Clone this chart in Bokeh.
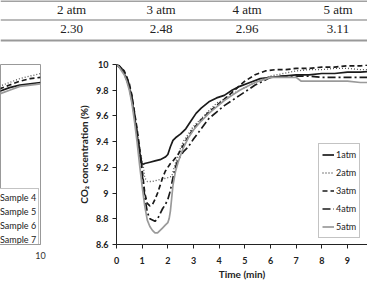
from bokeh.plotting import figure
from bokeh.models import Range1d, FixedTicker, CustomJSTickFormatter, Legend, LegendItem
from bokeh.layouts import column, row
from bokeh.core.properties import value
from bokeh.embed import file_html
from bokeh.resources import INLINE

# ---------------- data ----------------
table_headers = ["2 atm", "3 atm", "4 atm", "5 atm"]
table_values = ["2.30", "2.48", "2.96", "3.11"]

t_1atm = [0, 0.1, 0.2, 0.3, 0.4, 0.5, 0.6, 0.7, 0.8, 0.9, 1.0, 1.1, 1.3, 1.5, 1.7, 1.9, 2.0, 2.1, 2.2, 2.3,
          2.5, 2.7, 2.9, 3.1, 3.3, 3.6, 3.9, 4.2, 4.5, 4.8, 5.2, 5.6, 6.0, 6.5, 7.0, 7.5, 8.0, 8.5, 9.0, 9.5, 10.0]
v_1atm = [10.0, 9.98, 9.96, 9.93, 9.88, 9.82, 9.72, 9.6, 9.45, 9.32, 9.22, 9.23, 9.24, 9.25, 9.26, 9.28, 9.30,
          9.36, 9.41, 9.43, 9.46, 9.50, 9.56, 9.62, 9.66, 9.71, 9.74, 9.76, 9.80, 9.83, 9.86, 9.89, 9.90, 9.91,
          9.92, 9.92, 9.93, 9.93, 9.94, 9.94, 9.95]

t_2atm = [0, 0.1, 0.2, 0.3, 0.4, 0.5, 0.6, 0.7, 0.8, 0.9, 1.0, 1.05, 1.1, 1.2, 1.4, 1.6, 1.8, 2.0, 2.15, 2.25,
          2.4, 2.6, 2.8, 3.0, 3.3, 3.6, 3.9, 4.2, 4.5, 4.8, 5.2, 5.6, 6.0, 6.5, 7.0, 7.5, 8.0, 8.5, 9.0, 9.5, 10.0]
v_2atm = [10.0, 9.99, 9.97, 9.94, 9.9, 9.84, 9.75, 9.62, 9.48, 9.35, 9.24, 9.2, 9.12, 9.09, 9.09, 9.1, 9.11,
          9.12, 9.13, 9.2, 9.3, 9.4, 9.46, 9.52, 9.58, 9.64, 9.7, 9.73, 9.77, 9.8, 9.84, 9.88, 9.91, 9.93, 9.95,
          9.96, 9.96, 9.97, 9.97, 9.96, 9.96]

t_3atm = [0, 0.1, 0.2, 0.3, 0.4, 0.5, 0.6, 0.7, 0.8, 0.9, 1.0, 1.1, 1.2, 1.3, 1.4, 1.5, 1.6, 1.7, 1.8, 1.9,
          2.0, 2.1, 2.2, 2.4, 2.6, 2.8, 3.0, 3.3, 3.6, 3.9, 4.2, 4.6, 5.0, 5.4, 5.8, 6.2, 6.6, 7.0, 7.5, 8.0,
          8.5, 9.0, 9.5, 10.0]
v_3atm = [10.0, 9.99, 9.97, 9.95, 9.9, 9.85, 9.76, 9.63, 9.5, 9.35, 9.18, 9.0, 8.92, 8.9, 8.91, 8.95, 9.0,
          9.06, 9.12, 9.17, 9.2, 9.23, 9.25, 9.3, 9.37, 9.44, 9.5, 9.57, 9.63, 9.68, 9.73, 9.8, 9.87, 9.92, 9.95,
          9.96, 9.96, 9.97, 9.97, 9.98, 9.98, 9.99, 9.99, 10.0]

t_4atm = [0, 0.1, 0.2, 0.3, 0.4, 0.5, 0.6, 0.7, 0.8, 0.9, 1.0, 1.1, 1.2, 1.3, 1.4, 1.5, 1.6, 1.7, 1.8, 1.9,
          2.0, 2.1, 2.2, 2.3, 2.4, 2.6, 2.8, 3.0, 3.3, 3.6, 3.9, 4.2, 4.5, 4.8, 5.1, 5.4, 5.7, 6.0, 6.5, 7.0,
          7.5, 8.0, 8.5, 9.0, 9.5, 10.0]
v_4atm = [10.0, 9.99, 9.97, 9.94, 9.9, 9.84, 9.75, 9.62, 9.48, 9.33, 9.15, 8.97, 8.85, 8.8, 8.79, 8.78, 8.8,
          8.84, 8.88, 8.91, 8.95, 9.02, 9.12, 9.2, 9.26, 9.32, 9.36, 9.42, 9.5, 9.58, 9.63, 9.68, 9.72, 9.76,
          9.8, 9.84, 9.87, 9.9, 9.91, 9.91, 9.91, 9.9, 9.9, 9.9, 9.9, 9.9]

t_5atm = [0, 0.1, 0.2, 0.3, 0.4, 0.5, 0.6, 0.7, 0.8, 0.9, 1.0, 1.1, 1.2, 1.3, 1.4, 1.5, 1.6, 1.7, 1.8, 1.9,
          2.0, 2.05, 2.1, 2.15, 2.2, 2.3, 2.4, 2.6, 2.8, 3.0, 3.3, 3.6, 3.9, 4.2, 4.5, 4.8, 5.1, 5.4, 5.7, 6.0,
          6.5, 7.0, 7.2, 7.5, 8.0, 8.5, 9.0, 9.5, 10.0]
v_5atm = [10.0, 9.98, 9.95, 9.92, 9.87, 9.8, 9.7, 9.56, 9.4, 9.22, 9.05, 8.9, 8.79, 8.74, 8.71, 8.69, 8.69,
          8.71, 8.73, 8.75, 8.77, 8.8, 8.86, 8.96, 9.06, 9.17, 9.24, 9.35, 9.43, 9.49, 9.56, 9.62, 9.67, 9.72,
          9.76, 9.8, 9.83, 9.86, 9.88, 9.9, 9.9, 9.9, 9.87, 9.87, 9.87, 9.87, 9.87, 9.86, 9.86]

series_labels = ["1atm", "2atm", "3atm", "4atm", "5atm"]

t_left = [8.4, 8.8, 9.2, 9.6, 10.0]
v_sample4 = [9.83, 9.86, 9.89, 9.91, 9.93]
v_sample5 = [9.81, 9.84, 9.87, 9.89, 9.90]
v_sample6 = [9.79, 9.82, 9.84, 9.85, 9.86]
v_sample7 = [9.77, 9.80, 9.83, 9.84, 9.85]
left_labels = ["Sample 4", "Sample 5", "Sample 6", "Sample 7"]

y_ticks = [8.6, 8.8, 9.0, 9.2, 9.4, 9.6, 9.8, 10.0]
x_ticks = [0, 1, 2, 3, 4, 5, 6, 7, 8, 9, 10]

# ---------------- styles / layout ----------------
SANS = "Lato"
SERIF = "Liberation Serif"
styles = [
    dict(line_color="#1a1a1a", line_width=1.7, line_dash="solid"),
    dict(line_color="#555555", line_width=1.3, line_dash="1 2"),
    dict(line_color="#1a1a1a", line_width=1.7, line_dash="5 3"),
    dict(line_color="#1a1a1a", line_width=1.7, line_dash="8 3 2 3"),
    dict(line_color="#9a9a9a", line_width=1.7, line_dash="solid"),
]
left_styles = [styles[1], styles[2], styles[0], styles[4]]
col_centers = [71, 160.5, 246.5, 337.5]

fmt = CustomJSTickFormatter(code="return (Math.round(tick*10)/10).toString();")

# ---------------- table strip ----------------
tab = figure(width=367, height=45, x_range=Range1d(0, 367), y_range=Range1d(45, 0),
             output_backend="svg", toolbar_location=None, min_border=0)
tab.axis.visible = False
tab.grid.visible = False
tab.outline_line_color = None
tab.segment(x0=[0], y0=[0.5], x1=[367], y1=[0.5], line_color="#444444", line_width=1)
tab.segment(x0=[0], y0=[19.5], x1=[367], y1=[19.5], line_color="#777777", line_width=1.2)
tab.segment(x0=[0], y0=[40], x1=[367], y1=[40], line_color="#999999", line_width=2)
tab.text(x=col_centers, y=[9] * 4, text=table_headers, text_font=value(SERIF), text_font_size="13px",
         text_align="center", text_baseline="middle", text_color="#222222")
tab.text(x=col_centers, y=[28] * 4, text=table_values, text_font=value(SERIF), text_font_size="13px",
         text_align="center", text_baseline="middle", text_color="#222222")

# ---------------- left partial chart ----------------
lf = figure(width=60, height=239, x_range=Range1d(8.45, 10), y_range=Range1d(8.6, 10),
            output_backend="svg", toolbar_location=None,
            min_border_left=0, min_border_right=20, min_border_top=17, min_border_bottom=40)
lf.yaxis.visible = False
lf.grid.visible = False
lf.outline_line_color = "#999999"
lf.xaxis.ticker = FixedTicker(ticks=[0, 2, 4, 6, 8, 10])
lf.xaxis.axis_line_color = "#999999"
lf.xaxis.major_tick_line_color = None
lf.xaxis.minor_tick_line_color = None
lf.xaxis.major_label_standoff = 1
lf.xaxis.major_label_text_font = SANS
lf.xaxis.major_label_text_font_size = "9px"
lf.xaxis.major_label_text_color = "#333333"
litems = []
for lab, vals, st in zip(left_labels, [v_sample4, v_sample5, v_sample6, v_sample7], left_styles):
    r = lf.line(t_left, vals, **st)
    litems.append(LegendItem(label=lab, renderers=[r]))
lleg = Legend(items=litems, location=(-20, -4), label_text_font=SANS, label_text_font_size="9px",
              label_text_color="#222222", glyph_width=14, glyph_height=12, label_height=12,
              label_standoff=3, spacing=2, padding=2, margin=0, label_width=36,
              border_line_color="#888888", background_fill_alpha=1)
lf.add_layout(lleg, "center")

# ---------------- main chart ----------------
p = figure(width=307, height=239, x_range=Range1d(0, 9.78), y_range=Range1d(8.6, 10),
           output_backend="svg", toolbar_location=None,
           min_border_left=56, min_border_right=0, min_border_top=19, min_border_bottom=35)
p.outline_line_color = None
p.xgrid.visible = False
p.ygrid.ticker = FixedTicker(ticks=[10.0])
p.ygrid.grid_line_color = "#aaaaaa"

p.xaxis.ticker = FixedTicker(ticks=x_ticks)
p.yaxis.ticker = FixedTicker(ticks=y_ticks)
p.yaxis.formatter = fmt
for ax in (p.xaxis, p.yaxis):
    ax.axis_line_color = "#222222"
    ax.major_tick_line_color = "#222222"
    ax.major_tick_out = 4
    ax.major_tick_in = 0
    ax.minor_tick_line_color = None
    ax.major_label_text_font = SANS
    ax.major_label_text_font_size = "9px"
    ax.major_label_text_color = "#222222"
    ax.major_label_text_font_style = "bold"
    ax.axis_label_text_font = SANS
    ax.axis_label_text_font_size = "10px"
    ax.axis_label_text_font_style = "bold"
    ax.axis_label_text_color = "#222222"
p.xaxis.axis_label = "Time (min)"
p.yaxis.axis_label = "CO\u2082 concentration (%)"
p.xaxis.major_label_standoff = 8
p.xaxis.axis_label_standoff = 1
p.yaxis.major_label_standoff = 4
p.yaxis.axis_label_standoff = 3

items = []
for lab, tt, vv, st in zip(series_labels, [t_1atm, t_2atm, t_3atm, t_4atm, t_5atm],
                           [v_1atm, v_2atm, v_3atm, v_4atm, v_5atm], styles):
    r = p.line(tt, vv, **st)
    items.append(LegendItem(label=lab, renderers=[r]))
leg = Legend(items=items, location=(202, 6), label_text_font=SANS, label_text_font_size="9px",
             label_text_color="#222222", glyph_width=12, glyph_height=15, label_height=15,
             label_standoff=2, spacing=3, padding=3, margin=0,
             border_line_color="#888888", background_fill_alpha=1)
p.add_layout(leg, "center")

layout = column(tab, row(lf, p, spacing=0), spacing=0)
open("out.html", "w").write(file_html(layout, INLINE))
